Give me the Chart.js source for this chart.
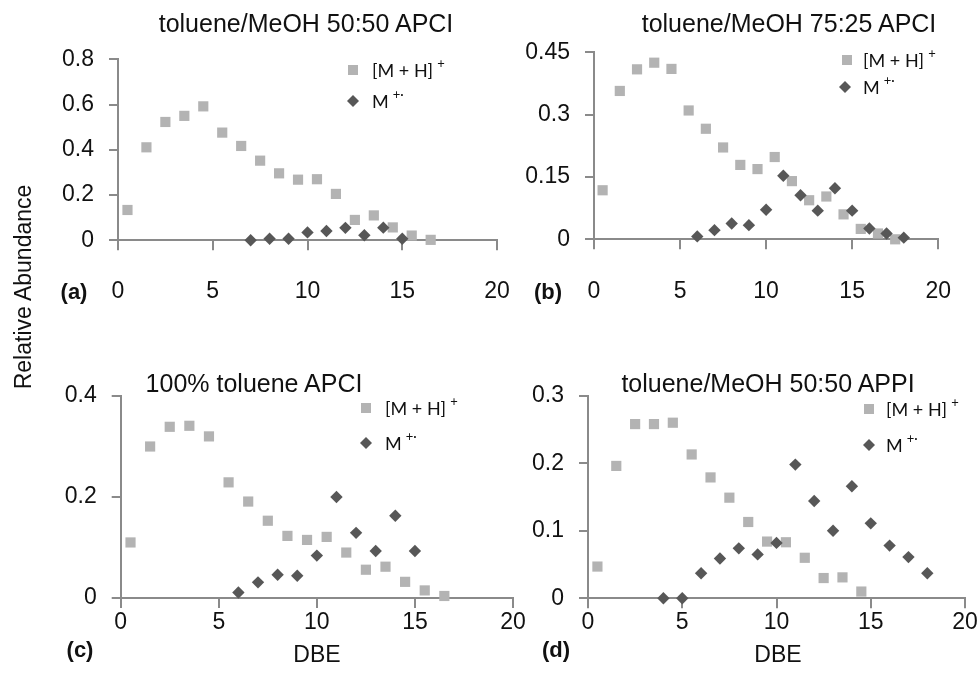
<!DOCTYPE html>
<html>
<head>
<meta charset="utf-8">
<script src="https://cdn.jsdelivr.net/npm/chart.js@4/dist/chart.umd.min.js"></script>
<style>
  html, body { margin:0; padding:0; background:#fff; }
  #wrap { position:relative; width:980px; height:684px; overflow:hidden; background:#fff; }
  canvas { position:absolute; left:0; top:0; }
  .t { position:absolute; transform:translate(-50%,-50%); white-space:nowrap; color:#111;
       font-family:"Liberation Sans", Arial, sans-serif; }
  .title { font-size:25px; }
  .lab { font-size:22px; font-weight:bold; }
  .ax { font-size:23px; }
</style>
</head>
<body>
<div id="wrap">
  <canvas id="ca" width="980" height="684"></canvas>
  <canvas id="cb" width="980" height="684"></canvas>
  <canvas id="cc" width="980" height="684"></canvas>
  <canvas id="cd" width="980" height="684"></canvas>
  <div class="t title" style="left:306px;top:23px">toluene/MeOH 50:50 APCI</div>
  <div class="t title" style="left:789px;top:23px">toluene/MeOH 75:25 APCI</div>
  <div class="t title" style="left:254px;top:383px">100% toluene APCI</div>
  <div class="t title" style="left:768px;top:383px">toluene/MeOH 50:50 APPI</div>
  <div class="t lab" style="left:74px;top:292px">(a)</div>
  <div class="t lab" style="left:548px;top:292px">(b)</div>
  <div class="t lab" style="left:80px;top:650px">(c)</div>
  <div class="t lab" style="left:556px;top:650px">(d)</div>
  <div class="t ax" style="left:23px;top:287px;transform:translate(-50%,-50%) rotate(-90deg)">Relative Abundance</div>
  <div class="t ax" style="left:317px;top:654px">DBE</div>
  <div class="t ax" style="left:778px;top:654px">DBE</div>
</div>
<script>
// ---------- data ----------
const xTicks = [0, 5, 10, 15, 20];

// (a) toluene/MeOH 50:50 APCI
const aMHx = [0.5,1.5,2.5,3.5,4.5,5.5,6.5,7.5,8.5,9.5,10.5,11.5,12.5,13.5,14.5,15.5,16.5];
const aMHy = [0.134,0.411,0.523,0.550,0.592,0.476,0.417,0.352,0.296,0.268,0.270,0.205,0.090,0.110,0.057,0.021,0.002];
const aMx  = [7,8,9,10,11,12,13,14,15];
const aMy  = [0.000,0.007,0.007,0.035,0.041,0.055,0.022,0.056,0.007];
const aYTicks = [0, 0.2, 0.4, 0.6, 0.8];

// (b) toluene/MeOH 75:25 APCI
const bMHx = [0.5,1.5,2.5,3.5,4.5,5.5,6.5,7.5,8.5,9.5,10.5,11.5,12.5,13.5,14.5,15.5,16.5,17.5];
const bMHy = [0.118,0.357,0.409,0.425,0.410,0.310,0.266,0.221,0.179,0.169,0.198,0.140,0.094,0.103,0.060,0.025,0.014,0.000];
const bMx  = [6,7,8,9,10,11,12,13,14,15,16,17,18];
const bMy  = [0.007,0.022,0.038,0.034,0.071,0.153,0.106,0.069,0.123,0.069,0.026,0.014,0.004];
const bYTicks = [0, 0.15, 0.3, 0.45];

// (c) 100% toluene APCI
const cMHx = [0.5,1.5,2.5,3.5,4.5,5.5,6.5,7.5,8.5,9.5,10.5,11.5,12.5,13.5,14.5,15.5,16.5];
const cMHy = [0.110,0.300,0.339,0.341,0.320,0.229,0.191,0.153,0.123,0.115,0.121,0.090,0.056,0.062,0.032,0.015,0.004];
const cMx  = [6,7,8,9,10,11,12,13,14,15];
const cMy  = [0.011,0.031,0.046,0.044,0.084,0.200,0.129,0.093,0.163,0.093];
const cYTicks = [0, 0.2, 0.4];

// (d) toluene/MeOH 50:50 APPI
const dMHx = [0.5,1.5,2.5,3.5,4.5,5.5,6.5,7.5,8.5,9.5,10.5,11.5,12.5,13.5,14.5];
const dMHy = [0.047,0.196,0.258,0.258,0.260,0.213,0.179,0.149,0.113,0.084,0.083,0.060,0.030,0.031,0.010];
const dMx  = [4,5,6,7,8,9,10,11,12,13,14,15,16,17,18];
const dMy  = [0.000,0.000,0.037,0.059,0.074,0.065,0.082,0.198,0.144,0.100,0.166,0.111,0.078,0.061,0.037];
const dYTicks = [0, 0.1, 0.2, 0.3];

const seriesNames = ['[M + H]', 'M'];
const seriesSups  = ['+', '+\u00B7'];

// ---------- styling ----------
const AXIS = '#8a8a8a';
const SQ = '#b3b3b3';
const DM = '#575757';
Chart.defaults.font.family = '"Liberation Sans", Arial, sans-serif';
Chart.defaults.color = '#111';

const zip = (xs, ys) => xs.map((x, i) => ({x: x, y: ys[i]}));

const cornerLegend = {
  id: 'cornerLegend',
  afterDraw(chart, args, opts) {
    const ctx = chart.ctx;
    chart.data.datasets.forEach((d, i) => {
      const it = opts.items[i];
      ctx.save();
      ctx.fillStyle = d.backgroundColor;
      ctx.beginPath();
      if (d.pointStyle === 'rect') {
        const s = 10;
        ctx.rect(it.x - s / 2, it.y - s / 2, s, s);
      } else {
        const r = 6;
        ctx.moveTo(it.x - r, it.y); ctx.lineTo(it.x, it.y - r);
        ctx.lineTo(it.x + r, it.y); ctx.lineTo(it.x, it.y + r);
        ctx.closePath();
      }
      ctx.fill();
      ctx.fillStyle = '#111';
      ctx.textBaseline = 'middle';
      ctx.textAlign = 'left';
      ctx.font = '18px Lato, "Open Sans", sans-serif';
      ctx.fillText(d.label, opts.tx, it.y + 1);
      const w = ctx.measureText(d.label).width;
      ctx.font = '13px Lato, "Open Sans", sans-serif';
      ctx.fillText(d.sup, opts.tx + w + 4, it.y - 6);
      ctx.restore();
    });
  }
};

function makeChart(id, p) {
  const YW = 100, XH = 60;
  return new Chart(document.getElementById(id), {
    type: 'scatter',
    data: {
      datasets: [
        { label: seriesNames[0], sup: seriesSups[0], data: zip(p.mhx, p.mhy), pointStyle: 'rect',
          pointRadius: 7.2, pointHoverRadius: 7.2, backgroundColor: SQ, borderColor: SQ, borderWidth: 0,
          clip: false, order: 2 },
        { label: seriesNames[1], sup: seriesSups[1], data: zip(p.mx, p.my), pointStyle: 'rectRot',
          pointRadius: 6.2, pointHoverRadius: 6.2, backgroundColor: DM, borderColor: DM, borderWidth: 0,
          clip: false, order: 1 }
      ]
    },
    options: {
      responsive: false, animation: false, devicePixelRatio: 1,
      events: [],
      layout: { padding: { left: p.left - YW, right: 980 - p.right, top: p.top, bottom: 684 - p.bottom - XH } },
      plugins: {
        legend: { display: false }, tooltip: { enabled: false }, title: { display: false },
        cornerLegend: { items: p.leg, tx: p.legTx }
      },
      scales: {
        x: {
          type: 'linear', min: 0, max: 20,
          afterBuildTicks: s => { s.ticks = xTicks.map(v => ({ value: v })); },
          afterFit: s => { s.height = XH; },
          border: { color: AXIS, width: 2 },
          grid: { drawOnChartArea: false, drawTicks: true, tickLength: 10, color: AXIS, lineWidth: 2 },
          ticks: { padding: p.xPad, font: { size: 23 }, color: '#111', maxRotation: 0, autoSkip: false,
                   callback: v => String(v) }
        },
        y: {
          type: 'linear', min: 0, max: p.yTicks[p.yTicks.length - 1],
          afterBuildTicks: s => { s.ticks = p.yTicks.map(v => ({ value: v })); },
          afterFit: s => { s.width = YW; },
          border: { color: AXIS, width: 2 },
          grid: { drawOnChartArea: false, drawTicks: true, tickLength: 9, color: AXIS, lineWidth: 2 },
          ticks: { padding: 15, font: { size: 23 }, color: '#111', autoSkip: false,
                   callback: v => String(v) }
        }
      }
    },
    plugins: [cornerLegend]
  });
}

makeChart('ca', { mhx: aMHx, mhy: aMHy, mx: aMx, my: aMy, yTicks: aYTicks,
  left: 118, right: 497, top: 59.3, bottom: 240.3, xPad: 28,
  leg: [{x: 353, y: 70}, {x: 353, y: 101}], legTx: 372 });
makeChart('cb', { mhx: bMHx, mhy: bMHy, mx: bMx, my: bMy, yTicks: bYTicks,
  left: 594, right: 957, top: 52.3, bottom: 239.3, xPad: 29,
  leg: [{x: 847, y: 60}, {x: 845, y: 87}], legTx: 863 });
makeChart('cc', { mhx: cMHx, mhy: cMHy, mx: cMx, my: cMy, yTicks: cYTicks,
  left: 120.7, right: 513, top: 396, bottom: 598, xPad: 1,
  leg: [{x: 366, y: 408}, {x: 366, y: 443}], legTx: 385 });
makeChart('cd', { mhx: dMHx, mhy: dMHy, mx: dMx, my: dMy, yTicks: dYTicks,
  left: 588, right: 965, top: 395.7, bottom: 598.3, xPad: 1,
  leg: [{x: 869, y: 409}, {x: 869, y: 445}], legTx: 886 });
</script>
</body>
</html>
